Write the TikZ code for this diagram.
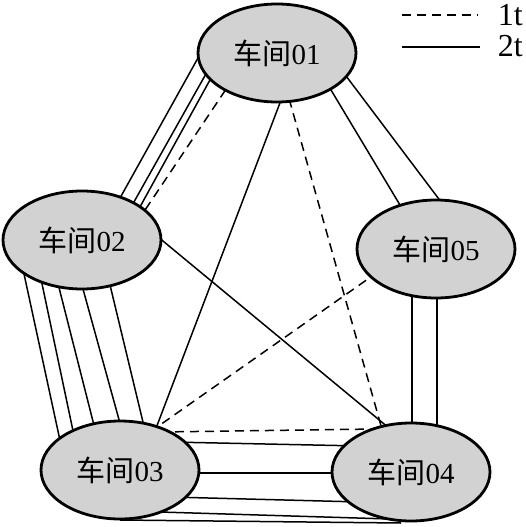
\documentclass[tikz,border=0pt]{standalone}
\usepackage{fontspec}
\setmainfont{Liberation Serif}
\newfontfamily\cjk{Noto Sans CJK SC}
\usetikzlibrary{shapes.geometric,backgrounds}
\definecolor{nodegray}{RGB}{210,210,210}
\tikzset{
  ws/.style={ellipse, draw=black, line width=2.8pt, fill=nodegray,
    minimum width=158pt, minimum height=98pt, inner sep=0pt,
    font=\fontsize{29}{31}\selectfont},
  flowtwo/.style={line width=1.5pt},
  flowone/.style={line width=1.5pt, dash pattern=on 9pt off 6pt},
  legtext/.style={font=\fontsize{32}{34}\selectfont, anchor=east, inner sep=0pt}
}
\begin{document}
\begin{tikzpicture}[x=1pt,y=-1pt]
\useasboundingbox (0,0) rectangle (525,527);
% workshops
\node[ws] (w1) at (277,53)  {{\cjk 车间}01};
\node[ws] (w2) at (82,240)  {{\cjk 车间}02};
\node[ws] (w3) at (120,470) {{\cjk 车间}03};
\node[ws] (w4) at (411,472) {{\cjk 车间}04};
\node[ws] (w5) at (436,249) {{\cjk 车间}05};
% legend
\coordinate (d1) at (402,15);
\coordinate (d2) at (478,15);
\draw[flowone] (d1) -- (d2);
\node[legtext] (t1) at (523,15) {1t};
\coordinate (s1) at (402,47);
\coordinate (s2) at (480,47);
\draw[flowtwo] (s1) -- (s2);
\node[legtext] (t2) at (523,46) {2t};
\begin{pgfonlayer}{background}
% 01 - 02
\draw[flowtwo] ([shift={(-69,-13)}]w1.center) -- ([shift={(23,-15)}]w2.center);
\draw[flowtwo] ([shift={(-52,-13)}]w1.center) -- ([shift={(39,-15)}]w2.center);
\draw[flowtwo] ([shift={(-45,-13)}]w1.center) -- ([shift={(48,-15)}]w2.center);
\draw[flowone] ([shift={(-18,-13)}]w1.center) -- ([shift={(53,-15)}]w2.center);
% 01 - 05
\draw[flowtwo] ([shift={(36,7)}]w1.center) -- ([shift={(-18,-14)}]w5.center);
\draw[flowtwo] ([shift={(57,7)}]w1.center) -- ([shift={(30,-14)}]w5.center);
% 01 - 03
\draw[flowtwo] ([shift={(15.5,17)}]w1.center) -- ([shift={(31.5,-30)}]w3.center);
% 01 - 04
\draw[flowone] ([shift={(4,17)}]w1.center) -- ([shift={(-26,-32)}]w4.center);
% 02 - 04
\draw[flowtwo] ([shift={(58,-18)}]w2.center) -- ([shift={(-16,-39)}]w4.center);
% 03 - 05
\draw[flowone] ([shift={(30,-38)}]w3.center) -- ([shift={(-51,18)}]w5.center);
% 02 - 03
\draw[flowtwo] ([shift={(-61,20)}]w2.center) -- ([shift={(-59,-25)}]w3.center);
\draw[flowtwo] ([shift={(-45,20)}]w2.center) -- ([shift={(-44,-25)}]w3.center);
\draw[flowtwo] ([shift={(-30,20)}]w2.center) -- ([shift={(-21,-25)}]w3.center);
\draw[flowtwo] ([shift={(-7,20)}]w2.center) -- ([shift={(6,-25)}]w3.center);
\draw[flowtwo] ([shift={(22,20)}]w2.center) -- ([shift={(28.5,-25)}]w3.center);
% 03 - 04
\draw[flowone] ([shift={(40,-38)}]w3.center) -- ([shift={(-35,-43)}]w4.center);
\draw[flowtwo] ([shift={(50,-28)}]w3.center) -- ([shift={(-50,-26)}]w4.center);
\draw[flowtwo] ([shift={(60,3)}]w3.center) -- ([shift={(-60,1)}]w4.center);
\draw[flowtwo] ([shift={(50,27)}]w3.center) -- ([shift={(-50,30)}]w4.center);
\draw[flowtwo] ([shift={(40,42)}]w3.center) -- ([shift={(-21,47)}]w4.center);
\draw[flowtwo] ([shift={(0,50)}]w3.center) -- ([shift={(-10,51)}]w4.center);
% 05 - 04
\draw[flowtwo] ([shift={(-24,30)}]w5.center) -- ([shift={(1,-30)}]w4.center);
\draw[flowtwo] ([shift={(1,30)}]w5.center) -- ([shift={(26,-30)}]w4.center);
\end{pgfonlayer}
\end{tikzpicture}
\end{document}
